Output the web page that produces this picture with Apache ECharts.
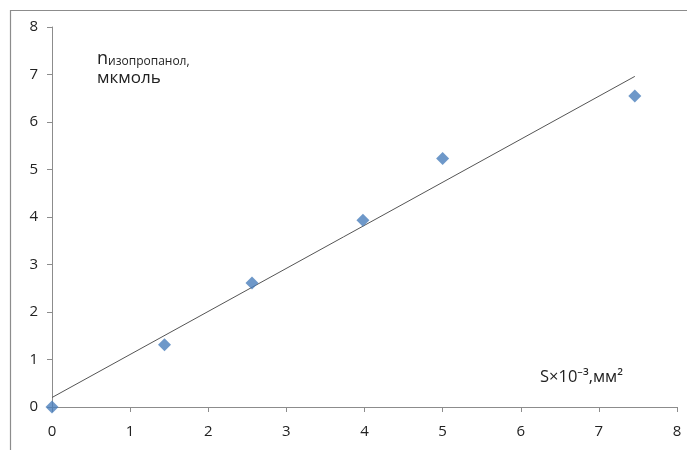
<!DOCTYPE html>
<html>
<head>
<meta charset="utf-8">
<script src="https://cdn.jsdelivr.net/npm/echarts@6/dist/echarts.min.js"></script>
<style>
  html, body { margin: 0; padding: 0; background: #fff; }
  #chart { width: 687px; height: 450px; }
</style>
</head>
<body>
<div id="chart"></div>
<script>
// Measured samples: area S (×10⁻³ mm²) vs. isopropanol amount (µmol)
const areaValues = [0, 1.44, 2.56, 3.98, 5.0, 7.46];
const molValues = [0, 1.31, 2.61, 3.93, 5.23, 6.55];
// Linear trendline end points
const trendX = [0, 7.46];
const trendY = [0.2, 6.96];
const xTicks = [0, 1, 2, 3, 4, 5, 6, 7, 8];
const yTicks = [0, 1, 2, 3, 4, 5, 6, 7, 8];

const font = '"Open Sans", "Noto Sans", sans-serif';
const chart = echarts.init(document.getElementById('chart'), null, { renderer: 'canvas' });

const axisCommon = {
  type: 'value',
  min: 0,
  max: 8,
  interval: 1,
  splitLine: { show: false },
  axisLine: { show: true, onZero: false, lineStyle: { color: '#8c8c8c', width: 1 } },
  axisTick: { show: true, inside: false, length: 5, lineStyle: { color: '#8c8c8c' } },
  axisLabel: { color: '#222', fontFamily: font, fontSize: 15 }
};

chart.setOption({
  animation: false,
  backgroundColor: '#fff',
  grid: { left: 52, right: 10, top: 27, bottom: 43 },
  xAxis: Object.assign({}, axisCommon, {
    axisLabel: Object.assign({}, axisCommon.axisLabel, { margin: 17,
      formatter: v => xTicks.includes(v) ? String(v) : '' })
  }),
  yAxis: Object.assign({}, axisCommon, {
    axisLabel: Object.assign({}, axisCommon.axisLabel, { margin: 14,
      formatter: v => yTicks.includes(v) ? String(v) : '' })
  }),
  graphic: [
    {
      type: 'rect', silent: true, z: -10,
      shape: { x: 10.5, y: 10.5, width: 700, height: 500 },
      style: { fill: 'none', stroke: '#8c8c8c', lineWidth: 1.2 }
    },
    {
      type: 'text', left: 97, top: 49,
      style: {
        text: '{n|n}{s|изопропанол,}\n{m|мкмоль}',
        rich: {
          n: { fontFamily: font, fontSize: 18, fill: '#222', verticalAlign: 'bottom', lineHeight: 21 },
          s: { fontFamily: font, fontSize: 12, fill: '#222', verticalAlign: 'bottom', padding: [7, 0, 0, 0], lineHeight: 21 },
          m: { fontFamily: font, fontSize: 17, fill: '#222', lineHeight: 21 }
        }
      }
    },
    {
      type: 'text', left: 540, top: 369,
      style: { text: 'S×10⁻³,мм²', fontFamily: font, fontSize: 16.5, fill: '#222' }
    }
  ],
  series: [
    {
      type: 'line',
      data: trendX.map((x, i) => [x, trendY[i]]),
      symbol: 'none',
      lineStyle: { color: '#555', width: 1 },
      z: 2
    },
    {
      type: 'scatter',
      data: areaValues.map((x, i) => [x, molValues[i]]),
      symbol: 'diamond',
      symbolSize: 13,
      itemStyle: { color: '#4a7ebb' },
      z: 3
    }
  ]
});
</script>
</body>
</html>
